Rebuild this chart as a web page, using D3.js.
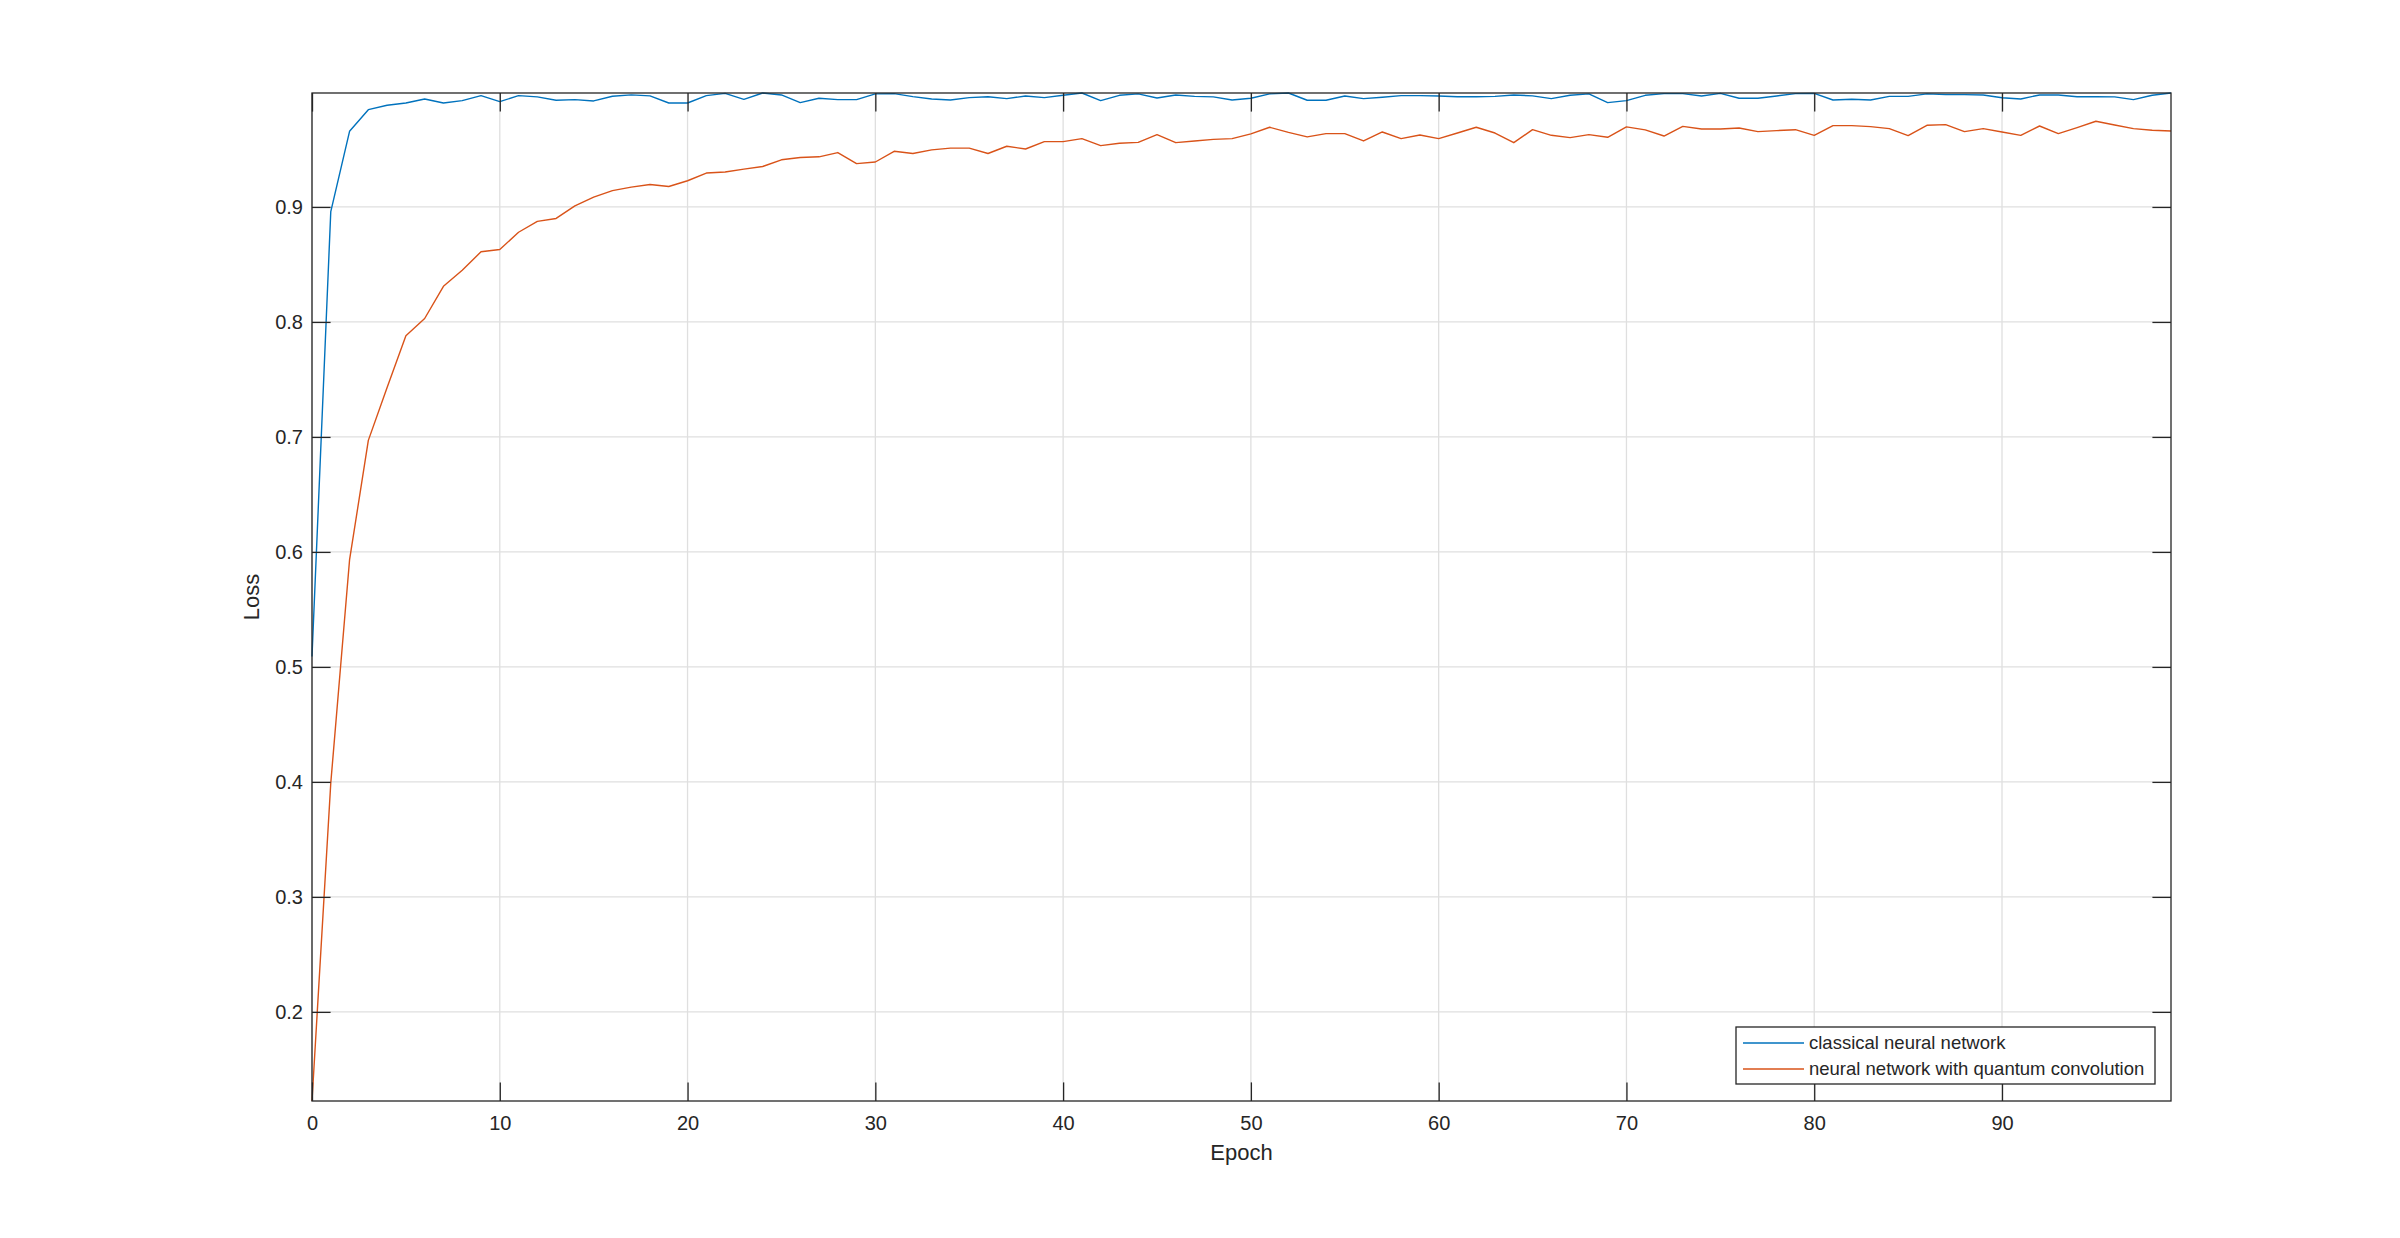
<!DOCTYPE html>
<html>
<head>
<meta charset="utf-8">
<script src="https://cdn.jsdelivr.net/npm/d3@7"></script>
<style>
  html, body { margin: 0; padding: 0; background: #ffffff; }
  svg { display: block; }
  text { font-family: "Liberation Sans", Arial, Helvetica, sans-serif; fill: #262626; }
</style>
</head>
<body>
<div id="chart"></div>
<script>
// ---- data ----
const epochs = d3.range(0, 100);
const seriesNames = ["classical neural network", "neural network with quantum convolution"];
const classical = [
  0.509, 0.896, 0.9658, 0.9846, 0.9884, 0.9904, 0.9939, 0.9904, 0.9925, 0.9968,
  0.9916, 0.9968, 0.9957, 0.9928, 0.9933, 0.9922, 0.9963, 0.9975, 0.9966, 0.9904,
  0.9904, 0.9968, 0.9988, 0.9936, 0.9991, 0.9974, 0.9907, 0.9945, 0.9933, 0.9933,
  0.9983, 0.9986, 0.9959, 0.9939, 0.9930, 0.9951, 0.9959, 0.9942, 0.9965, 0.9951,
  0.9972, 0.9991, 0.9925, 0.9971, 0.9983, 0.9948, 0.9974, 0.9962, 0.9957, 0.9930,
  0.9945, 0.9983, 0.9991, 0.9928, 0.9928, 0.9965, 0.9942, 0.9954, 0.9968, 0.9968,
  0.9965, 0.9959, 0.9959, 0.9962, 0.9974, 0.9966, 0.9942, 0.9971, 0.9983, 0.9907,
  0.9925, 0.9971, 0.9986, 0.9986, 0.9965, 0.9988, 0.9945, 0.9945, 0.9965, 0.9986,
  0.9988, 0.9930, 0.9936, 0.9930, 0.9962, 0.9962, 0.9983, 0.9977, 0.9977, 0.9974,
  0.9950, 0.9939, 0.9974, 0.9974, 0.9959, 0.9959, 0.9957, 0.9933, 0.9971, 0.9991
];
const quantum = [
  0.1225, 0.399, 0.593, 0.697, 0.743, 0.788, 0.803, 0.831, 0.845, 0.861,
  0.863, 0.878, 0.8875, 0.890, 0.901, 0.9085, 0.9142, 0.9172, 0.9195, 0.9178,
  0.9228, 0.9295, 0.9304, 0.9329, 0.9352, 0.941, 0.943, 0.9436, 0.9473, 0.9377,
  0.9391, 0.9484, 0.9465, 0.9496, 0.9512, 0.9512, 0.9465, 0.9528, 0.9504, 0.9568,
  0.9568, 0.9594, 0.9533, 0.9554, 0.9562, 0.9629, 0.9559, 0.9574, 0.9588, 0.9594,
  0.9635, 0.9693, 0.9649, 0.9609, 0.9638, 0.9638, 0.9574, 0.9652, 0.9594, 0.9626,
  0.9594, 0.9643, 0.9693, 0.9643, 0.9559, 0.9672, 0.9623, 0.9603, 0.9629, 0.9606,
  0.9696, 0.9670, 0.9617, 0.9701, 0.9678, 0.9678, 0.9687, 0.9655, 0.9664, 0.9672,
  0.9623, 0.9707, 0.9707, 0.9699, 0.9681, 0.9620, 0.9710, 0.9716, 0.9655, 0.9681,
  0.9652, 0.9623, 0.9704, 0.9638, 0.9690, 0.9745, 0.9713, 0.9681, 0.9667, 0.9661
];
const xTicks = [0, 10, 20, 30, 40, 50, 60, 70, 80, 90];
const yTicks = [0.2, 0.3, 0.4, 0.5, 0.6, 0.7, 0.8, 0.9];
const yTickLabels = ["0.2", "0.3", "0.4", "0.5", "0.6", "0.7", "0.8", "0.9"];
const xLabel = "Epoch";
const yLabel = "Loss";
const colors = ["#0072BD", "#D95319"];

// ---- layout ----
const W = 2400, H = 1238;
const L = 312, R = 2171, T = 93, B = 1101;
const axisColor = "#262626";
const tickLen = 18.6;

const svg = d3.select("#chart").append("svg")
  .attr("width", W).attr("height", H);
svg.append("rect").attr("width", W).attr("height", H).attr("fill", "#ffffff");

const x = d3.scaleLinear().domain([0, d3.max(epochs)]).range([L, R]);
const allVals = classical.concat(quantum);
const y = d3.scaleLinear().domain(d3.extent(allVals)).range([B, T]);

// plot background
svg.append("rect").attr("x", L).attr("y", T).attr("width", R - L).attr("height", B - T).attr("fill", "#ffffff");

// grid
const grid = svg.append("g").attr("class", "grid");
grid.selectAll("line.gx").data(xTicks).enter().append("line")
  .attr("x1", d => x(d)).attr("x2", d => x(d)).attr("y1", T).attr("y2", B)
  .attr("stroke", "#dfdfdf").attr("stroke-width", 1.3);
grid.selectAll("line.gy").data(yTicks).enter().append("line")
  .attr("y1", d => y(d)).attr("y2", d => y(d)).attr("x1", L).attr("x2", R)
  .attr("stroke", "#dfdfdf").attr("stroke-width", 1.3);

// clip
svg.append("defs").append("clipPath").attr("id", "clip")
  .append("rect").attr("x", L - 1).attr("y", T - 1).attr("width", R - L + 2).attr("height", B - T + 2);

const line = d3.line().x((d, i) => x(epochs[i])).y(d => y(d));
const seriesData = [classical, quantum];
svg.append("g").attr("clip-path", "url(#clip)")
  .selectAll("path").data(seriesData).enter().append("path")
  .attr("d", d => line(d))
  .attr("fill", "none")
  .attr("stroke", (d, i) => colors[i])
  .attr("stroke-width", 1.4)
  .attr("stroke-linejoin", "round");

// axes (ticks inside)
function styleAxis(g) {
  g.select(".domain").remove();
  g.selectAll(".tick line").attr("stroke", axisColor).attr("stroke-width", 1.3);
  g.selectAll(".tick text").attr("fill", axisColor)
    .style("font-size", "20px")
    .style("font-family", "'Liberation Sans', Arial, Helvetica, sans-serif");
}
const xAxisB = d3.axisBottom(x).tickValues(xTicks).tickSize(-tickLen).tickPadding(15).tickFormat(d3.format("d"));
svg.append("g").attr("transform", `translate(0,${B})`).call(xAxisB).call(styleAxis);
const xAxisT = d3.axisTop(x).tickValues(xTicks).tickSize(-tickLen).tickFormat("");
svg.append("g").attr("transform", `translate(0,${T})`).call(xAxisT).call(styleAxis);
const yAxisL = d3.axisLeft(y).tickValues(yTicks).tickSize(-tickLen).tickPadding(9)
  .tickFormat((d, i) => yTickLabels[i]);
svg.append("g").attr("transform", `translate(${L},0)`).call(yAxisL).call(styleAxis);
const yAxisR = d3.axisRight(y).tickValues(yTicks).tickSize(-tickLen).tickFormat("");
svg.append("g").attr("transform", `translate(${R},0)`).call(yAxisR).call(styleAxis);

// box
svg.append("rect").attr("x", L).attr("y", T).attr("width", R - L).attr("height", B - T)
  .attr("fill", "none").attr("stroke", axisColor).attr("stroke-width", 1.3);

// axis labels
svg.append("text").attr("x", (L + R) / 2).attr("y", 1160)
  .attr("text-anchor", "middle").style("font-size", "22px").text(xLabel);
svg.append("text").attr("transform", `translate(253,${(T + B) / 2}) rotate(-90)`)
  .attr("text-anchor", "middle").attr("dominant-baseline", "middle")
  .style("font-size", "22px").text(yLabel);

// legend
const lg = svg.append("g").attr("class", "legend");
lg.append("rect").attr("x", 1736).attr("y", 1027).attr("width", 419).attr("height", 57)
  .attr("fill", "#ffffff").attr("stroke", axisColor).attr("stroke-width", 1.3);
const rowY = [1043, 1069];
seriesNames.forEach((name, i) => {
  lg.append("line").attr("x1", 1743).attr("x2", 1804).attr("y1", rowY[i]).attr("y2", rowY[i])
    .attr("stroke", colors[i]).attr("stroke-width", 1.4);
  lg.append("text").attr("x", 1809).attr("y", rowY[i]).attr("dy", "0.35em")
    .style("font-size", "18.5px").text(name);
});
</script>
</body>
</html>
